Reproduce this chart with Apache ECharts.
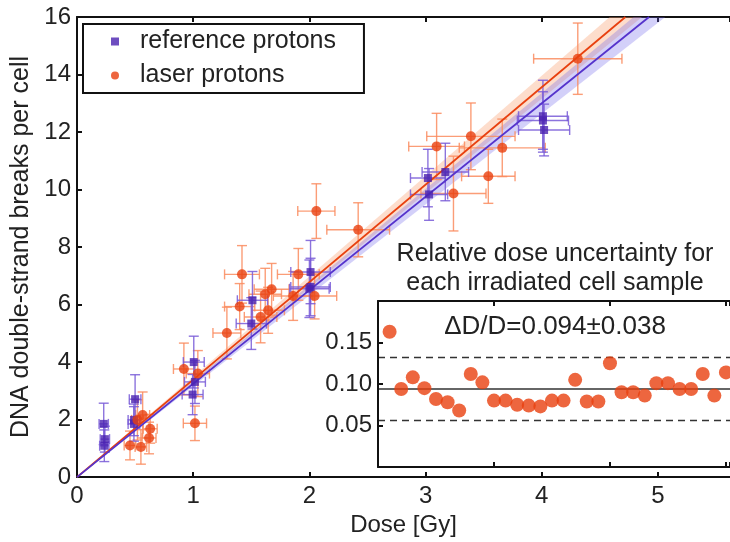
<!DOCTYPE html>
<html><head><meta charset="utf-8">
<script src="https://cdn.jsdelivr.net/npm/echarts@6/dist/echarts.min.js"></script>
<style>html,body{margin:0;padding:0;background:#fff}#c{width:730px;height:542px}</style>
</head><body><div id="c"></div>
<script>
// ---- data ----
const refDose    = [0.23,0.24,0.235,0.50,0.49,0.49,1.005,1.015,0.995,1.50,1.51,2.01,2.01,2.00,3.02,3.03,3.17,4.01,4.01,4.02];
const refDsb     = [1.85,1.32,1.09,2.71,1.99,1.85,4.00,3.31,2.87,5.34,6.15,7.13,6.61,6.55,10.40,9.83,10.61,12.55,12.40,12.07];
const refDoseErr = [0.04,0.04,0.04,0.05,0.05,0.05,0.09,0.09,0.09,0.13,0.13,0.17,0.17,0.17,0.15,0.16,0.20,0.21,0.22,0.22];
const refDsbErr  = [0.72,0.45,0.55,0.85,0.55,0.60,0.90,0.75,0.70,0.90,1.00,1.10,1.00,1.00,1.00,0.90,1.00,1.25,1.00,0.90];

const laserDose    = [0.456,0.52,0.565,0.55,0.62,0.63,0.92,1.04,1.015,1.29,1.40,1.42,1.58,1.62,1.645,1.675,1.86,1.905,2.045,2.06,2.42,3.095,3.24,3.39,3.54,3.66,4.31];
const laserDsb     = [1.10,1.99,2.16,1.05,1.36,1.68,3.76,3.60,1.87,5.01,5.93,7.05,5.57,6.36,5.80,6.53,6.30,7.05,6.30,9.25,8.60,11.50,9.86,11.85,10.46,11.45,14.55];
const laserDoseErr = [0.05,0.05,0.06,0.05,0.06,0.06,0.09,0.10,0.10,0.12,0.13,0.15,0.14,0.14,0.14,0.15,0.17,0.18,0.19,0.16,0.27,0.24,0.28,0.38,0.23,0.37,0.38];
const laserDsbErr  = [0.50,0.70,0.80,0.60,0.55,0.50,0.90,0.80,0.60,0.90,0.80,1.00,0.90,0.90,0.80,0.90,0.85,0.90,0.80,0.95,0.94,1.15,1.30,1.16,0.94,1.00,1.24];

const refSlope = 3.25, refSlopeErr = 0.09;
const laserSlope = 3.39, laserSlopeErr = 0.10;

const relUnc = [0.163,0.094,0.108,0.095,0.082,0.078,0.068,0.112,0.102,0.080,0.080,0.075,0.074,0.073,0.080,0.080,0.105,0.079,0.079,0.125,0.090,0.090,0.086,0.101,0.101,0.094,0.094,0.112,0.086,0.114];
const relMean = 0.094, relSd = 0.038;

const yTicks = [0,2,4,6,8,10,12,14,16];

// ---- build ----
const FONT = 'Liberation Sans, Arial, Helvetica, sans-serif';
const RED = '#E8400F', BLUE = '#4A22B0';
const yMaxMain = 16, xMaxMain = 5.62, xMaxInset = 30.35;

function zip(a,b,c,d){ return a.map((v,i)=>[v,b[i],c[i],d[i]]); }

function errRender(color){
  return function(params, api){
    const x=api.value(0), y=api.value(1), ex=api.value(2), ey=api.value(3);
    const l=api.coord([x-ex,y]), r=api.coord([x+ex,y]);
    const t=api.coord([x,y+ey]), b=api.coord([x,y-ey]);
    const c=5, st={stroke:color, lineWidth:1.4};
    const L=(x1,y1,x2,y2)=>({type:'line',shape:{x1,y1,x2,y2},style:st});
    return {type:'group',children:[
      L(l[0],l[1],r[0],r[1]), L(t[0],t[1],b[0],b[1]),
      L(t[0]-c,t[1],t[0]+c,t[1]), L(b[0]-c,b[1],b[0]+c,b[1]),
      L(l[0],l[1]-c,l[0],l[1]+c), L(r[0],r[1]-c,r[0],r[1]+c)
    ]};
  };
}
function bandRender(slope, err, fill){
  return function(params, api){
    const p0=api.coord([0,0]);
    const p1=api.coord([yMaxMain/(slope+err), yMaxMain]);
    const p2=api.coord([yMaxMain/(slope-err), yMaxMain]);
    return {type:'polygon',shape:{points:[p0,p1,p2]},style:{fill:fill},silent:true};
  };
}
function hRender(color, dash){
  return function(params, api){
    const y=api.value(0);
    const a=api.coord([0,y]), b=api.coord([xMaxInset,y]);
    return {type:'line',shape:{x1:a[0],y1:a[1],x2:b[0],y2:b[1]},
      style:{stroke:color, lineWidth:1.5, lineDash:dash}};
  };
}

const chart = echarts.init(document.getElementById('c'), null, {renderer:'canvas'});
const axisLine = {show:true, lineStyle:{color:'#111', width:2}};
const tickIn = {show:true, inside:true, length:5, lineStyle:{color:'#111', width:2}};
const lbl = {color:'#222', fontSize:24, fontFamily:FONT};

chart.setOption({
  animation:false,
  backgroundColor:'#fff',
  textStyle:{fontFamily:FONT},
  legend:{
    left:83, top:24, orient:'vertical',
    data:[{name:'reference protons', icon:'rect'},{name:'laser protons', icon:'circle'}],
    itemWidth:8, itemHeight:8, itemGap:9,
    padding:[5,28,5,28],
    borderColor:'#111', borderWidth:2, backgroundColor:'#fff',
    textStyle:{fontSize:25, color:'#222', fontFamily:FONT, padding:[0,0,0,16]}
  },
  grid:[
    {left:77, right:0, top:17, bottom:61},
    {left:378, right:0, top:301, bottom:75, show:true, backgroundColor:'#fff', borderWidth:0, z:5}
  ],
  xAxis:[
    {gridIndex:0, type:'value', min:0, max:xMaxMain, interval:1, position:'bottom',
     axisLine, axisTick:tickIn, splitLine:{show:false},
     axisLabel:Object.assign({margin:7, showMaxLabel:false}, lbl),
     name:'Dose [Gy]', nameLocation:'middle', nameGap:30,
     nameTextStyle:{fontSize:24, color:'#222', fontFamily:FONT}},
    {gridIndex:0, type:'value', min:0, max:xMaxMain, interval:1, position:'top',
     axisLine, axisTick:tickIn, splitLine:{show:false}, axisLabel:{show:false}},
    {gridIndex:1, type:'value', min:0, max:xMaxInset, interval:10, position:'bottom', z:6,
     axisLine, axisTick:tickIn, splitLine:{show:false}, axisLabel:{show:false}},
    {gridIndex:1, type:'value', min:0, max:xMaxInset, interval:10, position:'top', z:6,
     axisLine, axisTick:tickIn, splitLine:{show:false}, axisLabel:{show:false}}
  ],
  yAxis:[
    {gridIndex:0, type:'value', min:0, max:yMaxMain, interval:2,
     axisLine, axisTick:tickIn, splitLine:{show:false},
     axisLabel:Object.assign({margin:6, formatter:v=>yTicks.includes(v)?String(v):''}, lbl),
     name:'DNA double-strand breaks per cell', nameLocation:'middle', nameGap:42,
     nameTextStyle:{fontSize:25, color:'#222', fontFamily:FONT}},
    {gridIndex:1, type:'value', min:0, max:0.2, interval:0.05, z:6,
     axisLine, axisTick:tickIn, splitLine:{show:false},
     axisLabel:Object.assign({}, lbl, {margin:6, formatter:v=>(v>0.01&&v<0.19)?v.toFixed(2):''})}
  ],
  graphic:[
    {type:'text', x:555, y:254, z:10, style:{text:'Relative dose uncertainty for', fill:'#222', font:'25px '+FONT, textAlign:'center', textVerticalAlign:'middle'}},
    {type:'text', x:555, y:283, z:10, style:{text:'each irradiated cell sample', fill:'#222', font:'25px '+FONT, textAlign:'center', textVerticalAlign:'middle'}},
    {type:'text', x:555, y:327, z:10, style:{text:'\u0394D/D=0.094\u00b10.038', fill:'#222', font:'26px '+FONT, textAlign:'center', textVerticalAlign:'middle'}}
  ],
  series:[
    {type:'custom', xAxisIndex:0, yAxisIndex:0, renderItem:bandRender(laserSlope, laserSlopeErr, 'rgba(250,160,115,0.36)'), data:[[0,0]], silent:true, z:1, clip:true},
    {type:'custom', xAxisIndex:0, yAxisIndex:0, renderItem:bandRender(refSlope, refSlopeErr, 'rgba(110,100,235,0.30)'), data:[[0,0]], silent:true, z:1, clip:true},
    {type:'custom', xAxisIndex:0, yAxisIndex:0, renderItem:errRender('rgba(250,140,95,0.85)'), data:zip(laserDose,laserDsb,laserDoseErr,laserDsbErr), encode:{x:0,y:1}, z:2, clip:true},
    {type:'custom', xAxisIndex:0, yAxisIndex:0, renderItem:errRender('rgba(120,90,215,0.85)'), data:zip(refDose,refDsb,refDoseErr,refDsbErr), encode:{x:0,y:1}, z:2, clip:true},
    {type:'line', xAxisIndex:0, yAxisIndex:0, data:[[0,0],[yMaxMain/laserSlope,yMaxMain]], symbol:'none', lineStyle:{color:RED, width:1.8}, z:3, silent:true},
    {type:'line', xAxisIndex:0, yAxisIndex:0, data:[[0,0],[yMaxMain/refSlope,yMaxMain]], symbol:'none', lineStyle:{color:'#5533CC', width:1.8}, z:3, silent:true},
    {name:'reference protons', type:'scatter', xAxisIndex:0, yAxisIndex:0, symbol:'rect', symbolSize:8, itemStyle:{color:BLUE}, data:refDose.map((d,i)=>[d,refDsb[i]]), z:4},
    {name:'laser protons', type:'scatter', xAxisIndex:0, yAxisIndex:0, symbol:'circle', symbolSize:10, itemStyle:{color:RED}, data:laserDose.map((d,i)=>[d,laserDsb[i]]), z:4},
    {type:'custom', xAxisIndex:2, yAxisIndex:1, renderItem:hRender('#333', null), data:[[relMean]], encode:{y:0}, z:6, silent:true, clip:true},
    {type:'custom', xAxisIndex:2, yAxisIndex:1, renderItem:hRender('#333', [7,5]), data:[[relMean+relSd],[relMean-relSd]], encode:{y:0}, z:6, silent:true, clip:true},
    {type:'scatter', xAxisIndex:2, yAxisIndex:1, symbol:'circle', symbolSize:14, itemStyle:{color:RED}, z:7,
     data:relUnc.map((v,i)=>[i+1,v])}
  ]
});
</script></body></html>
